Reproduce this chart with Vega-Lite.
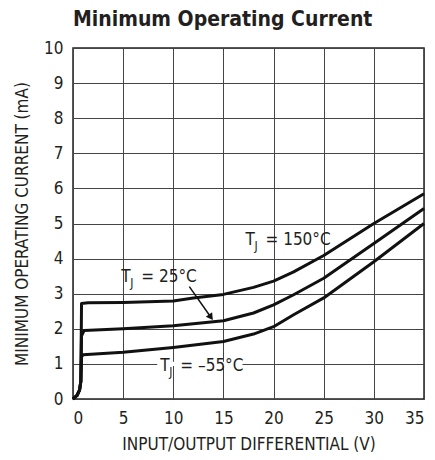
{
  "$schema": "https://vega.github.io/schema/vega-lite/v6.json",
  "autosize": "none",
  "width": 351,
  "height": 351,
  "padding": {"left": 73, "top": 48, "right": 11, "bottom": 61},
  "background": "white",
  "title": {
    "text": "Minimum Operating Current",
    "anchor": "start",
    "frame": "group",
    "font": "DejaVu Sans Condensed, Roboto, sans-serif",
    "fontSize": 21,
    "fontWeight": "bold",
    "color": "#231f20",
    "offset": 9
  },
  "config": {
    "view": {"stroke": "#231f20", "strokeWidth": 1.5},
    "axis": {
      "grid": true,
      "gridColor": "#444",
      "gridWidth": 1,
      "gridOpacity": 1,
      "domain": false,
      "ticks": false,
      "labelOverlap": false,
      "labelFont": "DejaVu Sans Condensed, Roboto, sans-serif",
      "labelFontSize": 17,
      "labelColor": "#231f20",
      "titleFont": "DejaVu Sans Condensed, Roboto, sans-serif",
      "titleFontSize": 17,
      "titleFontWeight": "normal",
      "titleColor": "#231f20"
    }
  },
  "datasets": {
    "curves": [
      {"series": "150", "i": 0, "vin": 0, "ma": 0},
      {"series": "150", "i": 1, "vin": 0.4, "ma": 0.1},
      {"series": "150", "i": 2, "vin": 0.65, "ma": 0.25},
      {"series": "150", "i": 3, "vin": 0.78, "ma": 0.5},
      {"series": "150", "i": 4, "vin": 0.85, "ma": 2.72},
      {"series": "150", "i": 5, "vin": 1.5, "ma": 2.74},
      {"series": "150", "i": 6, "vin": 5, "ma": 2.75},
      {"series": "150", "i": 7, "vin": 10, "ma": 2.79},
      {"series": "150", "i": 8, "vin": 12, "ma": 2.88},
      {"series": "150", "i": 9, "vin": 15, "ma": 2.98},
      {"series": "150", "i": 10, "vin": 18, "ma": 3.18},
      {"series": "150", "i": 11, "vin": 20, "ma": 3.36},
      {"series": "150", "i": 12, "vin": 22, "ma": 3.62},
      {"series": "150", "i": 13, "vin": 25, "ma": 4.09},
      {"series": "150", "i": 14, "vin": 30, "ma": 5.0},
      {"series": "150", "i": 15, "vin": 35, "ma": 5.85},
      {"series": "25", "i": 0, "vin": 0, "ma": 0},
      {"series": "25", "i": 1, "vin": 0.4, "ma": 0.1},
      {"series": "25", "i": 2, "vin": 0.65, "ma": 0.25},
      {"series": "25", "i": 3, "vin": 0.78, "ma": 0.5},
      {"series": "25", "i": 4, "vin": 0.85, "ma": 1.8},
      {"series": "25", "i": 5, "vin": 1.1, "ma": 1.95},
      {"series": "25", "i": 6, "vin": 5, "ma": 2.0},
      {"series": "25", "i": 7, "vin": 10, "ma": 2.09},
      {"series": "25", "i": 8, "vin": 15, "ma": 2.23},
      {"series": "25", "i": 9, "vin": 18, "ma": 2.45},
      {"series": "25", "i": 10, "vin": 20, "ma": 2.68},
      {"series": "25", "i": 11, "vin": 22, "ma": 2.97},
      {"series": "25", "i": 12, "vin": 25, "ma": 3.44},
      {"series": "25", "i": 13, "vin": 30, "ma": 4.43},
      {"series": "25", "i": 14, "vin": 35, "ma": 5.43},
      {"series": "-55", "i": 0, "vin": 0, "ma": 0},
      {"series": "-55", "i": 1, "vin": 0.4, "ma": 0.1},
      {"series": "-55", "i": 2, "vin": 0.65, "ma": 0.25},
      {"series": "-55", "i": 3, "vin": 0.78, "ma": 0.5},
      {"series": "-55", "i": 4, "vin": 0.85, "ma": 1.2},
      {"series": "-55", "i": 5, "vin": 1.0, "ma": 1.26},
      {"series": "-55", "i": 6, "vin": 5, "ma": 1.33},
      {"series": "-55", "i": 7, "vin": 10, "ma": 1.47},
      {"series": "-55", "i": 8, "vin": 15, "ma": 1.64},
      {"series": "-55", "i": 9, "vin": 18, "ma": 1.85},
      {"series": "-55", "i": 10, "vin": 20, "ma": 2.06},
      {"series": "-55", "i": 11, "vin": 22, "ma": 2.4},
      {"series": "-55", "i": 12, "vin": 25, "ma": 2.88},
      {"series": "-55", "i": 13, "vin": 30, "ma": 3.91},
      {"series": "-55", "i": 14, "vin": 35, "ma": 5.0}
    ],
    "labels": [
      {"vin": 17.2, "ma": 4.39, "rest": "= 150°C"},
      {"vin": 4.82, "ma": 3.34, "rest": "= 25°C"},
      {"vin": 8.71, "ma": 0.81, "rest": "= –55°C"}
    ],
    "gap": [{"vin": 8.4, "vin2": 16.9, "ma": 0.94, "ma2": 1.06}],
    "arrow": [{"vin": 11.6, "ma": 3.2, "vin2": 13.75, "ma2": 2.33}]
  },
  "encoding": {
    "x": {"field": "vin", "type": "quantitative", "scale": {"domain": [0, 35], "nice": false}, "axis": {"values": [0, 5, 10, 15, 20, 25, 30, 35], "title": "INPUT/OUTPUT DIFFERENTIAL (V)", "labelPadding": 11, "titlePadding": 10}},
    "y": {"field": "ma", "type": "quantitative", "scale": {"domain": [0, 10], "nice": false}, "axis": {"values": [0, 1, 2, 3, 4, 5, 6, 7, 8, 9, 10], "title": "MINIMUM OPERATING CURRENT (mA)", "labelPadding": 10, "titlePadding": 12}}
  },
  "layer": [
    {
      "data": {"name": "gap"},
      "mark": {"type": "rect", "color": "white"},
      "encoding": {
        "x2": {"field": "vin2"},
        "y2": {"field": "ma2"}
      }
    },
    {
      "data": {"name": "curves"},
      "mark": {"type": "line", "color": "#111", "strokeWidth": 3, "strokeJoin": "round"},
      "encoding": {
        "detail": {"field": "series"},
        "order": {"field": "i", "type": "quantitative"}
      }
    },
    {
      "data": {"name": "arrow"},
      "mark": {"type": "rule", "color": "#111", "strokeWidth": 1.5},
      "encoding": {
        "x2": {"field": "vin2"},
        "y2": {"field": "ma2"}
      }
    },
    {
      "data": {"name": "arrow"},
      "mark": {"type": "point", "shape": "triangle-up", "filled": true, "color": "#111", "size": 60, "angle": 145, "opacity": 1},
      "encoding": {
        "x": {"field": "vin2", "type": "quantitative"},
        "y": {"field": "ma2", "type": "quantitative"}
      }
    },
    {
      "data": {"name": "labels"},
      "mark": {"type": "text", "align": "left", "baseline": "alphabetic", "font": "DejaVu Sans Condensed, Roboto, sans-serif", "fontSize": 17, "color": "#231f20", "text": "T"}
    },
    {
      "data": {"name": "labels"},
      "mark": {"type": "text", "align": "left", "baseline": "alphabetic", "font": "DejaVu Sans Condensed, Roboto, sans-serif", "fontSize": 12, "color": "#231f20", "text": "J", "dx": 9, "dy": 5}
    },
    {
      "data": {"name": "labels"},
      "mark": {"type": "text", "align": "left", "baseline": "alphabetic", "font": "DejaVu Sans Condensed, Roboto, sans-serif", "fontSize": 17, "color": "#231f20", "dx": 20},
      "encoding": {
        "text": {"field": "rest"}
      }
    }
  ]
}
